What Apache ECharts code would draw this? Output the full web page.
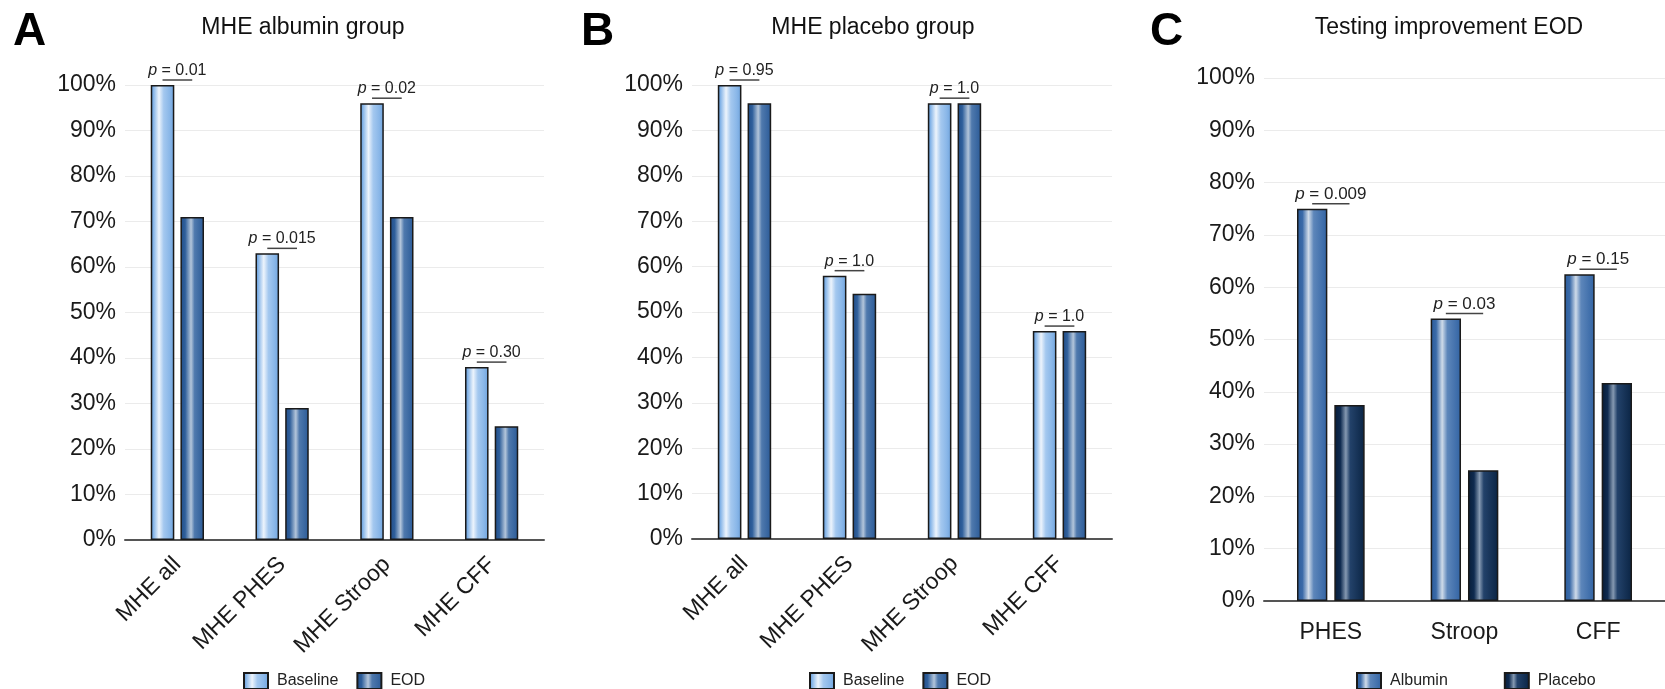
<!DOCTYPE html>
<html><head><meta charset="utf-8">
<script src="https://cdn.jsdelivr.net/npm/echarts@6/dist/echarts.min.js"></script>
<style>html,body{margin:0;padding:0;background:#fff}#c{width:1665px;height:689px}</style>
</head><body><div id="c"></div>
<script>
// ---- data ----
const catsAB = ['MHE all', 'MHE PHES', 'MHE Stroop', 'MHE CFF'];
const albuminBaseline = [100, 63, 96, 38];
const albuminEOD = [71, 29, 71, 25];
const albuminP = ['0.01', '0.015', '0.02', '0.30'];
const placeboBaseline = [100, 58, 96, 45.8];
const placeboEOD = [96, 54, 96, 45.8];
const placeboP = ['0.95', '1.0', '1.0', '1.0'];
const catsC = ['PHES', 'Stroop', 'CFF'];
const improveAlbumin = [75, 54, 62.5];
const improvePlacebo = [37.5, 25, 41.7];
const improveP = ['0.009', '0.03', '0.15'];
const panelLetters = ['A', 'B', 'C'];
const panelTitles = ['MHE albumin group', 'MHE placebo group', 'Testing improvement EOD'];

const FONT = "'Liberation Sans', Arial, Helvetica, sans-serif";
function grad(stops) {
  return { type: 'linear', x: 0, y: 0, x2: 1, y2: 0, colorStops: stops.map(s => ({ offset: s[0], color: s[1] })) };
}
const gBaseline = grad([[0, '#5890d2'], [0.12, '#86b5e8'], [0.35, '#edf4fc'], [0.55, '#a4c8ef'], [0.8, '#8ab7e8'], [1, '#6ea3de']]);
const gEOD = grad([[0, '#214d88'], [0.2, '#2f5f9b'], [0.45, '#b3c5da'], [0.6, '#4f79ad'], [1, '#2a5a97']]);
const gAlb = grad([[0, '#2a5b9b'], [0.18, '#3a6aa8'], [0.38, '#cfdbe9'], [0.55, '#5d86ba'], [1, '#3163a3']]);
const gPla = grad([[0, '#071c37'], [0.2, '#0f2b50'], [0.38, '#8599b1'], [0.52, '#23426a'], [1, '#0a2444']]);

const grids = [
  { left: 125, top: 85, width: 419, height: 455 },
  { left: 692, top: 85, width: 420, height: 454 },
  { left: 1264, top: 78, width: 430, height: 523 }
];
const barW = ['22.5%', '22.5%', '22.7%'];
const barGapArr = ['26%', '26%', '23%'];
const barFrac = [0.225, 0.225, 0.227];
const gapFrac = [0.26, 0.26, 0.23];
const pFont = [16, 16, 17];

function yAxis(i) {
  return {
    type: 'value', gridIndex: i, min: 0, max: 100, interval: 10,
    axisLine: { show: false }, axisTick: { show: false },
    axisLabel: { formatter: '{value}%', fontSize: 23, color: '#1a1a1a', fontFamily: FONT, margin: 9 },
    splitLine: { lineStyle: { color: '#ebebeb', width: 1 } }
  };
}
function xAxis(i, cats, rot) {
  return {
    type: 'category', gridIndex: i, data: cats,
    axisLine: { lineStyle: { color: '#555', width: 2 } }, axisTick: { show: false },
    axisLabel: rot ? { rotate: 45, fontSize: 23, color: '#1a1a1a', fontFamily: FONT, margin: 21, interval: 0 }
                   : { fontSize: 23, color: '#1a1a1a', fontFamily: FONT, margin: 20, interval: 0 }
  };
}
function bar(name, data, i, color) {
  return {
    name, type: 'bar', xAxisIndex: i, yAxisIndex: i, data,
    barWidth: barW[i], barGap: barGapArr[i],
    itemStyle: { color, borderColor: '#1a1a1a', borderWidth: 1.5 },
    emphasis: { disabled: true }
  };
}
function pSeries(i, a, b, ps) {
  const data = ps.map((p, k) => [k, Math.max(a[k], b[k]), p]);
  return {
    type: 'custom', xAxisIndex: i, yAxisIndex: i, data, clip: false, silent: true,
    renderItem: function (params, api) {
      const c = api.coord([api.value(0), api.value(1)]);
      const band = api.size([1, 0])[0];
      const bw = band * barFrac[i];
      const off = bw * (1 + gapFrac[i]) / 2;
      const ly = c[1] - 5;
      return {
        type: 'group', children: [
          { type: 'line', shape: { x1: c[0] - off, y1: ly, x2: c[0] + off, y2: ly }, style: { stroke: '#444', lineWidth: 1.5 } },
          { type: 'text', x: c[0], y: ly - 9.5, style: {
              text: '{i|p} = ' + data[params.dataIndex][2],
              rich: { i: { fontStyle: 'italic', fontSize: pFont[i], fontFamily: FONT, fill: '#222' } },
              fontSize: pFont[i], fontFamily: FONT, fill: '#222', align: 'center', verticalAlign: 'middle' } }
        ]
      };
    }
  };
}

const graphics = [];
const letterX = [13, 581, 1150];
const titleX = [303, 873, 1449];
for (let k = 0; k < 3; k++) {
  graphics.push({ type: 'text', x: letterX[k], y: 32, style: { text: panelLetters[k], fontSize: 46, fontWeight: 'bold', fontFamily: FONT, fill: '#000', align: 'left', verticalAlign: 'middle' } });
  graphics.push({ type: 'text', x: titleX[k], y: 28, style: { text: panelTitles[k], fontSize: 23, fontFamily: FONT, fill: '#111', align: 'center', verticalAlign: 'middle' } });
}

const legendBase = { orient: 'horizontal', top: 672, padding: 0, itemWidth: 24, itemHeight: 16, icon: 'rect',
  textStyle: { fontSize: 16, color: '#222', fontFamily: FONT, padding: [0, 0, 0, 4] }, selectedMode: false };

const option = {
  animation: false,
  backgroundColor: '#fff',
  grid: grids,
  xAxis: [xAxis(0, catsAB, true), xAxis(1, catsAB, true), xAxis(2, catsC, false)],
  yAxis: [yAxis(0), yAxis(1), yAxis(2)],
  legend: [
    Object.assign({}, legendBase, { left: 243, itemGap: 18, data: ['Baseline', 'EOD'] }),
    Object.assign({}, legendBase, { left: 809, itemGap: 18, data: ['Baseline', 'EOD'] }),
    Object.assign({}, legendBase, { left: 1356, itemGap: 56, data: ['Albumin', 'Placebo'] })
  ],
  graphic: graphics,
  series: [
    bar('Baseline', albuminBaseline, 0, gBaseline),
    bar('EOD', albuminEOD, 0, gEOD),
    bar('Baseline', placeboBaseline, 1, gBaseline),
    bar('EOD', placeboEOD, 1, gEOD),
    bar('Albumin', improveAlbumin, 2, gAlb),
    bar('Placebo', improvePlacebo, 2, gPla),
    pSeries(0, albuminBaseline, albuminEOD, albuminP),
    pSeries(1, placeboBaseline, placeboEOD, placeboP),
    pSeries(2, improveAlbumin, improvePlacebo, improveP)
  ]
};
const chart = echarts.init(document.getElementById('c'), null, { renderer: 'canvas' });
chart.setOption(option);
</script></body></html>
